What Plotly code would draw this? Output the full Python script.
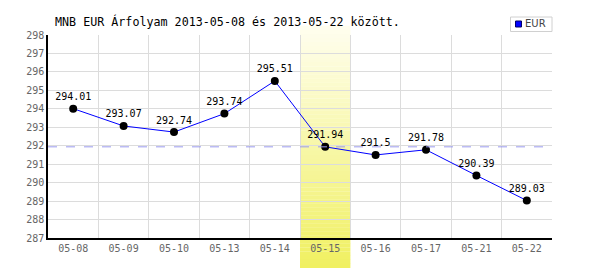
import plotly.graph_objects as go

dates = ["05-08", "05-09", "05-10", "05-13", "05-14", "05-15", "05-16", "05-17", "05-21", "05-22"]
eur = [294.01, 293.07, 292.74, 293.74, 295.51, 291.94, 291.5, 291.78, 290.39, 289.03]
labels = ["294.01", "293.07", "292.74", "293.74", "295.51", "291.94", "291.5", "291.78", "290.39", "289.03"]
series_name = "EUR"
highlight = "05-15"
title = "MNB EUR Árfolyam 2013-05-08 és 2013-05-22 között."

MONO = "DejaVu Sans Mono"
fig = go.Figure()

fig.add_trace(go.Scatter(
    x=dates, y=eur, mode="lines+markers+text", text=labels, name=series_name,
    textposition="top center",
    textfont=dict(family=MONO, size=10, color="#000000"),
    line=dict(color="#0000ff", width=1),
    marker=dict(color="#000000", size=8),
    showlegend=False, cliponaxis=False,
))

# pixel -> paper helpers (plot area: x 48..552, y 35..238)
def px(xp):
    return (xp - 48) / 504.0

def py(yp):
    return (238 - yp) / 203.0

hi = dates.index(highlight)
n = 60
top_c = (255, 254, 240)
bot_c = (240, 240, 96)
y_top = py(26)
y_bot = py(268)
shapes = []
for i in range(n):
    t = (i + 0.5) / n
    c = tuple(int(round(top_c[k] + (bot_c[k] - top_c[k]) * t)) for k in range(3))
    y1 = y_top - (y_top - y_bot) * i / n
    y0 = y_top - (y_top - y_bot) * (i + 1) / n
    shapes.append(dict(type="rect", xref="x", yref="paper",
                       x0=hi - 0.5, x1=hi + 0.5, y0=y0, y1=y1 + 0.001,
                       fillcolor="rgb(%d,%d,%d)" % c, line=dict(width=0),
                       layer="below"))
shapes.append(dict(type="line", xref="paper", yref="y", x0=0, x1=1,
                   y0=eur[hi], y1=eur[hi],
                   line=dict(color="#9a9aee", width=1, dash="dash"),
                   layer="above"))
# legend box
shapes.append(dict(type="rect", xref="paper", yref="paper",
                   x0=px(510.5), x1=px(552), y0=py(31.5), y1=py(17),
                   fillcolor="#ffffff", line=dict(color="#d0d0d0", width=1),
                   layer="above"))
shapes.append(dict(type="rect", xref="paper", yref="paper",
                   x0=px(515.5), x1=px(521.5), y0=py(27), y1=py(21),
                   fillcolor="#0000ff", line=dict(color="#000066", width=1),
                   layer="above"))

fig.update_layout(
    width=600, height=270,
    margin=dict(l=48, r=48, t=35, b=32),
    paper_bgcolor="#ffffff", plot_bgcolor="rgba(0,0,0,0)",
    showlegend=False,
    shapes=shapes,
    annotations=[
        dict(text=title, xref="paper", yref="paper",
             x=px(53), y=py(21), xanchor="left", yanchor="middle",
             showarrow=False,
             font=dict(family=MONO, size=11.7, color="#000000")),
        dict(text=series_name, xref="paper", yref="paper",
             x=px(522.5), y=py(24), xanchor="left", yanchor="middle",
             showarrow=False,
             font=dict(family="DejaVu Sans", size=10, color="#444444")),
    ],
    xaxis=dict(type="category", tickson="boundaries", ticks="",
               showgrid=True, gridcolor="#dcdcdc", gridwidth=1,
               showline=True, linecolor="#000000", linewidth=1.5,
               tickfont=dict(family=MONO, size=10, color="#666666"),
               range=[-0.5, len(dates) - 0.5], zeroline=False),
    yaxis=dict(range=[287, 298], dtick=1, tick0=287,
               showgrid=True, gridcolor="#dcdcdc", gridwidth=1,
               showline=True, linecolor="#000000", linewidth=1.5,
               ticks="", tickfont=dict(family=MONO, size=10, color="#666666"),
               zeroline=False),
)

fig.write_html("out.html")
